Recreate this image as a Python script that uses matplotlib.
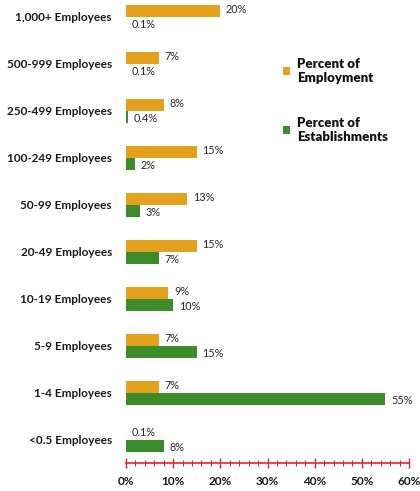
import matplotlib
matplotlib.use("Agg")
import matplotlib.pyplot as plt
from matplotlib.ticker import MultipleLocator, FuncFormatter
import numpy as np

categories = ["1,000+ Employees", "500-999 Employees", "250-499 Employees",
              "100-249 Employees", "50-99 Employees", "20-49 Employees",
              "10-19 Employees", "5-9 Employees", "1-4 Employees", "<0.5 Employees"]
employment = [20, 7, 8, 15, 13, 15, 9, 7, 7, 0.1]
establishments = [0.1, 0.1, 0.4, 2, 3, 7, 10, 15, 55, 8]
employment_labels = ["20%", "7%", "8%", "15%", "13%", "15%", "9%", "7%", "7%", "0.1%"]
establishment_labels = ["0.1%", "0.1%", "0.4%", "2%", "3%", "7%", "10%", "15%", "55%", "8%"]
x_ticks = [0, 10, 20, 30, 40, 50, 60]

plt.rcParams['font.family'] = ['Lato', 'DejaVu Sans']

orange = '#E3A11E'
green = '#3C8C2C'
red = '#E0262A'

fig = plt.figure(figsize=(4.2, 4.91), dpi=100)
ax = fig.add_axes([0.3, 0.057, 0.674, 0.943])

y = np.arange(len(categories))
h = 0.26
b1 = ax.barh(y - h / 2, employment, height=h, color=orange, label="Percent of\nEmployment")
b2 = ax.barh(y + h / 2, establishments, height=h, color=green, label="Percent of\nEstablishments")

for yi, v, lab in zip(y, employment, employment_labels):
    ax.annotate(lab, (v, yi - h / 2 - 0.03), xytext=(4, 0), textcoords='offset points',
                ha='left', va='center', fontsize=7.8, color='#2a2a2a')
for yi, v, lab in zip(y, establishments, establishment_labels):
    ax.annotate(lab, (v, yi + h / 2 + 0.03), xytext=(4, 0), textcoords='offset points',
                ha='left', va='center', fontsize=7.8, color='#2a2a2a')

ax.set_yticks(y)
ax.set_yticklabels(categories, fontsize=8.5, fontweight='bold', color='#1a1a1a')
ax.tick_params(axis='y', length=0, pad=10)
ax.set_ylim(9.49, -0.36)

ax.set_xlim(0, 60)
ax.set_xticks(x_ticks)
ax.xaxis.set_major_formatter(FuncFormatter(lambda v, p: f"{int(v)}%"))
ax.xaxis.set_minor_locator(MultipleLocator(2))
ax.tick_params(axis='x', which='major', direction='inout', length=7, width=1, color=red,
               labelsize=8.5, pad=6, labelcolor='#1a1a1a')
ax.tick_params(axis='x', which='minor', direction='inout', length=5, width=0.8, color=red)
for lbl in ax.get_xticklabels():
    lbl.set_fontweight('bold')

for s in ['top', 'right', 'left']:
    ax.spines[s].set_visible(False)
ax.spines['bottom'].set_color(red)
ax.spines['bottom'].set_linewidth(1.2)

leg = fig.legend(handles=[b1, b2], loc='upper left', bbox_to_anchor=(0.645, 0.907),
                 frameon=False, handlelength=0.55, handleheight=0.55,
                 handletextpad=0.5, labelspacing=2.5, fontsize=9.5)
for t in leg.get_texts():
    t.set_fontweight('heavy')
    t.set_color('#111111')

fig.savefig("out.png", dpi=100, facecolor='white')
